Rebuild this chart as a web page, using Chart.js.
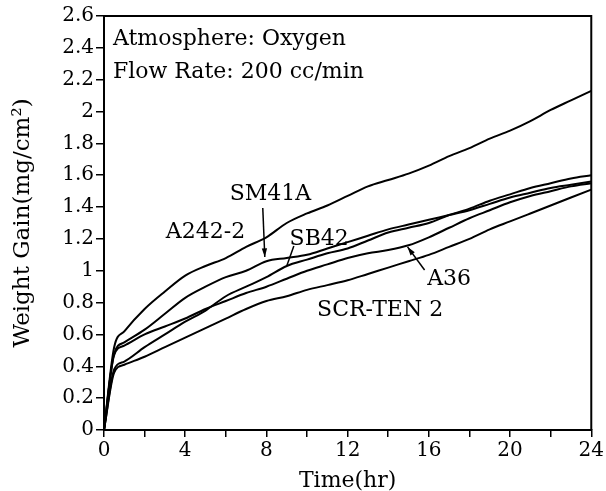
<!DOCTYPE html>
<html>
<head>
<meta charset="utf-8">
<script src="https://cdn.jsdelivr.net/npm/chart.js@4/dist/chart.umd.min.js"></script>
<style>
  html, body { margin: 0; padding: 0; background: #fff; }
  #wrap { width: 606px; height: 491px; }
</style>
</head>
<body>
<div id="wrap"><canvas id="myChart" width="606" height="491"></canvas></div>
<script>
// time (hr) shared by every curve
let hours = [0, 0.5, 1, 2, 3, 4, 5, 6, 7, 8, 9, 10, 11, 12, 13, 14, 15, 16, 17, 18, 19, 20, 21, 22, 23, 24];

// weight gain (mg/cm2)
let a242 = [0, 0.52, 0.62, 0.76, 0.87, 0.97, 1.03, 1.08, 1.15, 1.21, 1.30, 1.36, 1.41, 1.47, 1.53, 1.57, 1.61, 1.66, 1.72, 1.77, 1.83, 1.88, 1.94, 2.01, 2.07, 2.13];
let sm41a = [0, 0.48, 0.55, 0.63, 0.73, 0.83, 0.90, 0.96, 1.00, 1.06, 1.08, 1.10, 1.14, 1.18, 1.22, 1.26, 1.29, 1.32, 1.35, 1.38, 1.42, 1.46, 1.49, 1.52, 1.54, 1.56];
let sb42 = [0, 0.38, 0.43, 0.52, 0.60, 0.68, 0.75, 0.84, 0.90, 0.96, 1.03, 1.07, 1.11, 1.14, 1.19, 1.24, 1.27, 1.30, 1.35, 1.39, 1.44, 1.48, 1.52, 1.55, 1.58, 1.60];
let a36 = [0, 0.47, 0.53, 0.60, 0.65, 0.70, 0.76, 0.81, 0.86, 0.90, 0.95, 1.00, 1.04, 1.08, 1.11, 1.13, 1.16, 1.21, 1.27, 1.33, 1.38, 1.43, 1.47, 1.50, 1.53, 1.55];
let scrTen2 = [0, 0.36, 0.41, 0.46, 0.52, 0.58, 0.64, 0.70, 0.76, 0.81, 0.84, 0.88, 0.91, 0.94, 0.98, 1.02, 1.06, 1.10, 1.15, 1.20, 1.26, 1.31, 1.36, 1.41, 1.46, 1.51];

let seriesNames = ['A242-2', 'SM41A', 'SB42', 'A36', 'SCR-TEN 2'];
let seriesValues = [a242, sm41a, sb42, a36, scrTen2];

// text on the plot, placed in data units [hr, mg/cm2]
let notes = [
  { text: 'Atmosphere: Oxygen', at: [0.44, 2.42], align: 'left' },
  { text: 'Flow Rate: 200 cc/min', at: [0.44, 2.21], align: 'left' },
  { text: 'SM41A', at: [8.2, 1.445], align: 'center' },
  { text: 'A242-2', at: [5.0, 1.206], align: 'center' },
  { text: 'SB42', at: [10.6, 1.162], align: 'center' },
  { text: 'A36', at: [17.0, 0.91], align: 'center' },
  { text: 'SCR-TEN 2', at: [13.6, 0.716], align: 'center' }
];
// pointer lines: from, to, arrow head?
let pointers = [
  { from: [7.82, 1.394], to: [7.92, 1.087], head: true },
  { from: [9.35, 1.156], to: [9.0, 1.03], head: false },
  { from: [15.79, 1.005], to: [14.95, 1.15], head: true }
];

let fontFamily = "'DejaVu Serif', 'Liberation Serif', serif";

let plotExtras = {
  id: 'plotExtras',
  afterDraw(chart) {
    let ctx = chart.ctx;
    let a = chart.chartArea;
    let xs = chart.scales.x, ys = chart.scales.y;
    ctx.save();
    // top and right edge of the frame
    ctx.strokeStyle = '#000';
    ctx.lineWidth = 2;
    ctx.beginPath();
    ctx.moveTo(a.left, a.top);
    ctx.lineTo(a.right, a.top);
    ctx.lineTo(a.right, a.bottom);
    ctx.stroke();

    ctx.fillStyle = '#000';
    ctx.font = '22px ' + fontFamily;
    ctx.textBaseline = 'alphabetic';
    notes.forEach(n => {
      ctx.textAlign = n.align;
      ctx.fillText(n.text, xs.getPixelForValue(n.at[0]), ys.getPixelForValue(n.at[1]));
    });

    ctx.lineWidth = 1.5;
    pointers.forEach(p => {
      let x1 = xs.getPixelForValue(p.from[0]), y1 = ys.getPixelForValue(p.from[1]);
      let x2 = xs.getPixelForValue(p.to[0]), y2 = ys.getPixelForValue(p.to[1]);
      ctx.beginPath();
      ctx.moveTo(x1, y1);
      ctx.lineTo(x2, y2);
      ctx.stroke();
      if (p.head) {
        let ang = Math.atan2(y2 - y1, x2 - x1);
        ctx.beginPath();
        ctx.moveTo(x2, y2);
        ctx.lineTo(x2 - 9 * Math.cos(ang - 0.3), y2 - 9 * Math.sin(ang - 0.3));
        ctx.lineTo(x2 - 9 * Math.cos(ang + 0.3), y2 - 9 * Math.sin(ang + 0.3));
        ctx.closePath();
        ctx.fill();
      }
    });
    ctx.restore();
  }
};

let ctx = document.getElementById('myChart').getContext('2d');
let myChart = new Chart(ctx, {
  type: 'line',
  data: {
    datasets: seriesValues.map((vals, i) => ({
      label: seriesNames[i],
      data: hours.map((h, j) => ({ x: h, y: vals[j] })),
      borderColor: '#000',
      borderWidth: 2,
      pointRadius: 0,
      fill: false,
      cubicInterpolationMode: 'monotone'
    }))
  },
  options: {
    responsive: false,
    animation: false,
    layout: { padding: { top: 16, right: 14, left: 0, bottom: 0 } },
    plugins: {
      legend: { display: false },
      tooltip: { enabled: false }
    },
    scales: {
      x: {
        type: 'linear',
        min: 0,
        max: 24,
        afterFit: s => { s.height = 61; },
        ticks: {
          stepSize: 2,
          autoSkip: false,
          maxRotation: 0,
          padding: 2,
          color: '#000',
          font: { family: fontFamily, size: 20 },
          callback: v => (v % 4 === 0 ? String(v) : '')
        },
        grid: { drawOnChartArea: false, drawTicks: true, tickLength: 7, color: '#000', lineWidth: 1.5 },
        border: { color: '#000', width: 2 },
        title: {
          display: true,
          text: 'Time(hr)',
          color: '#000',
          font: { family: fontFamily, size: 22 },
          padding: { top: 0, bottom: -3 }
        }
      },
      y: {
        min: 0,
        max: 2.6,
        afterFit: s => { s.width = 104; },
        ticks: {
          stepSize: 0.2,
          padding: 2,
          color: '#000',
          font: { family: fontFamily, size: 20 },
          callback: v => String(+v.toFixed(1))
        },
        grid: { drawOnChartArea: false, drawTicks: true, tickLength: 8, color: '#000', lineWidth: 1.5 },
        border: { color: '#000', width: 2 },
        title: {
          display: true,
          text: 'Weight Gain(mg/cm²)',
          color: '#000',
          font: { family: fontFamily, size: 23 },
          padding: { top: 9, bottom: 0 }
        }
      }
    }
  },
  plugins: [plotExtras]
});
</script>
</body>
</html>
